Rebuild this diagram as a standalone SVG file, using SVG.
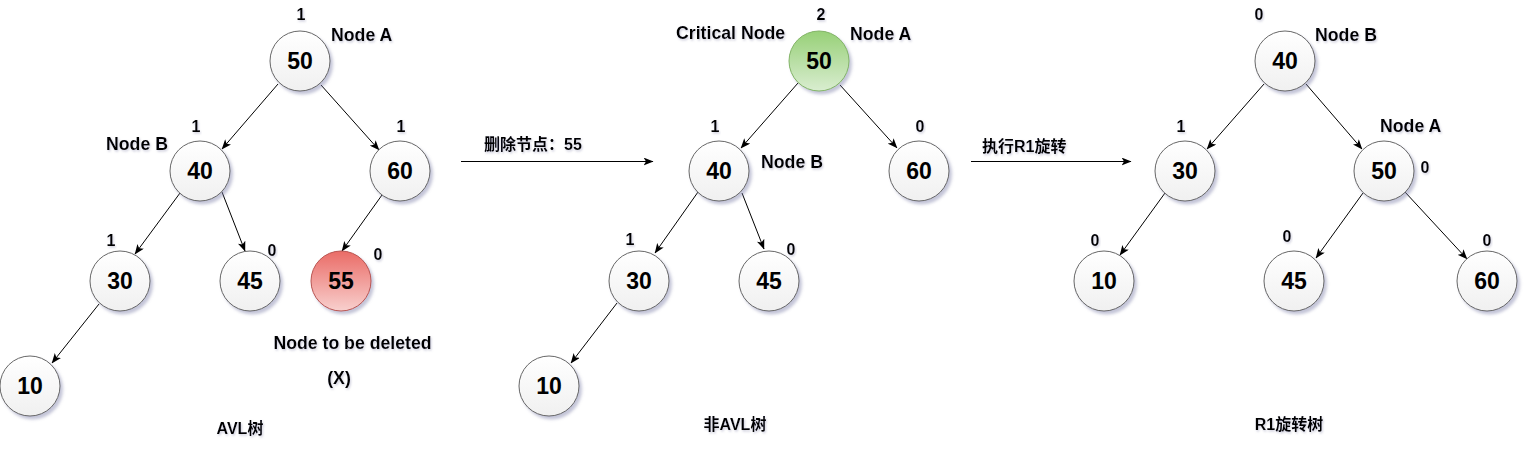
<svg xmlns="http://www.w3.org/2000/svg" width="1525" height="455" viewBox="0 0 1525 455">
<defs>
<linearGradient id="gW" x1="0" y1="0" x2="0" y2="1"><stop offset="0" stop-color="#ffffff"/><stop offset="1" stop-color="#f0f0f0"/></linearGradient>
<linearGradient id="gG" x1="0" y1="0" x2="0" y2="1"><stop offset="0" stop-color="#97d077"/><stop offset="1" stop-color="#d9edd0"/></linearGradient>
<linearGradient id="gR" x1="0" y1="0" x2="0" y2="1"><stop offset="0" stop-color="#ea6b66"/><stop offset="1" stop-color="#f8d0ce"/></linearGradient>
<filter id="sh" x="-30%" y="-30%" width="170%" height="170%"><feDropShadow dx="2.5" dy="3" stdDeviation="1.6" flood-color="#7c7fa8" flood-opacity="0.45"/></filter>
<filter id="tsh" x="-10%" y="-30%" width="120%" height="170%"><feDropShadow dx="1" dy="1.5" stdDeviation="1.2" flood-color="#9090b0" flood-opacity="0.45"/></filter>
<marker id="arr" viewBox="0 0 10 8" refX="9.5" refY="4" markerWidth="10" markerHeight="8" markerUnits="userSpaceOnUse" orient="auto"><path d="M0,0 L10,4 L0,8 L2.5,4 Z" fill="#000"/></marker>
</defs>
<style>
.n circle{stroke:#666666;stroke-width:1;filter:url(#sh)}
.w{fill:url(#gW)}
.g{fill:url(#gG);stroke:#82b366 !important}
.r{fill:url(#gR);stroke:#b85450 !important}
.v{font-family:"Liberation Sans",Arial,sans-serif;font-weight:bold;font-size:23px;text-anchor:middle;fill:#000}
.b{font-family:"Liberation Sans",Arial,sans-serif;font-weight:bold;font-size:16px;text-anchor:middle;fill:#000;filter:url(#tsh)}
.l{font-family:"Liberation Sans",Arial,sans-serif;font-weight:bold;font-size:17.7px;fill:#000;filter:url(#tsh)}
.c{font-family:"Liberation Sans","Noto Sans CJK SC",sans-serif;font-weight:bold;font-size:16px;fill:#000;filter:url(#tsh)}
#edges line{stroke:#000;stroke-width:1;marker-end:url(#arr)}
</style>
<g id="edges">
<line x1="278" y1="84" x2="222" y2="149"/>
<line x1="321" y1="85" x2="379" y2="150"/>
<line x1="180" y1="193" x2="135" y2="254"/>
<line x1="222" y1="192" x2="245" y2="251"/>
<line x1="382" y1="195" x2="342" y2="251"/>
<line x1="99" y1="304" x2="52" y2="363"/>
<line x1="798" y1="83" x2="741" y2="148"/>
<line x1="840" y1="85" x2="897" y2="148"/>
<line x1="698" y1="192" x2="655" y2="253"/>
<line x1="742" y1="193" x2="764" y2="249"/>
<line x1="617" y1="303" x2="571" y2="363"/>
<line x1="1264" y1="84" x2="1207" y2="149"/>
<line x1="1306" y1="84" x2="1362" y2="149"/>
<line x1="1165" y1="193" x2="1120" y2="255"/>
<line x1="1363" y1="193" x2="1316" y2="258"/>
<line x1="1405" y1="192" x2="1467" y2="259"/>
<line x1="461" y1="161.5" x2="653" y2="161.5"/>
<line x1="971" y1="161.5" x2="1131" y2="161.5"/>
</g>
<g id="t1-50" class="n"><circle class="w" cx="300" cy="61" r="30"/><text class="v" x="300" y="69">50</text></g>
<g id="t1-40" class="n"><circle class="w" cx="200" cy="171" r="30"/><text class="v" x="200" y="179">40</text></g>
<g id="t1-60" class="n"><circle class="w" cx="400" cy="171" r="30"/><text class="v" x="400" y="179">60</text></g>
<g id="t1-30" class="n"><circle class="w" cx="120" cy="281" r="30"/><text class="v" x="120" y="289">30</text></g>
<g id="t1-45" class="n"><circle class="w" cx="250" cy="281" r="30"/><text class="v" x="250" y="289">45</text></g>
<g id="t1-55" class="n"><circle class="r" cx="341" cy="281" r="30"/><text class="v" x="341" y="289">55</text></g>
<g id="t1-10" class="n"><circle class="w" cx="30" cy="386" r="30"/><text class="v" x="30" y="394">10</text></g>
<g id="t2-50" class="n"><circle class="g" cx="819" cy="61" r="30"/><text class="v" x="819" y="69">50</text></g>
<g id="t2-40" class="n"><circle class="w" cx="719" cy="171" r="30"/><text class="v" x="719" y="179">40</text></g>
<g id="t2-60" class="n"><circle class="w" cx="919" cy="171" r="30"/><text class="v" x="919" y="179">60</text></g>
<g id="t2-30" class="n"><circle class="w" cx="639" cy="281" r="30"/><text class="v" x="639" y="289">30</text></g>
<g id="t2-45" class="n"><circle class="w" cx="769" cy="281" r="30"/><text class="v" x="769" y="289">45</text></g>
<g id="t2-10" class="n"><circle class="w" cx="549" cy="386" r="30"/><text class="v" x="549" y="394">10</text></g>
<g id="t3-40" class="n"><circle class="w" cx="1285" cy="61" r="30"/><text class="v" x="1285" y="69">40</text></g>
<g id="t3-30" class="n"><circle class="w" cx="1185" cy="171" r="30"/><text class="v" x="1185" y="179">30</text></g>
<g id="t3-50" class="n"><circle class="w" cx="1384" cy="171" r="30"/><text class="v" x="1384" y="179">50</text></g>
<g id="t3-10" class="n"><circle class="w" cx="1104" cy="281" r="30"/><text class="v" x="1104" y="289">10</text></g>
<g id="t3-45" class="n"><circle class="w" cx="1294" cy="281" r="30"/><text class="v" x="1294" y="289">45</text></g>
<g id="t3-60" class="n"><circle class="w" cx="1487" cy="281" r="30"/><text class="v" x="1487" y="289">60</text></g>
<g id="labels">
<text class="b" x="301" y="20">1</text>
<text class="l" x="331" y="41">Node A</text>
<text class="l" x="106" y="150">Node B</text>
<text class="b" x="196" y="132">1</text>
<text class="b" x="401" y="132">1</text>
<text class="b" x="111" y="246">1</text>
<text class="b" x="272" y="256">0</text>
<text class="b" x="378" y="260">0</text>
<text class="l" x="352.5" y="349" text-anchor="middle">Node to be deleted</text>
<text class="l" x="339" y="384" text-anchor="middle">(X)</text>
<text class="c" x="240" y="434" text-anchor="middle">AVL树</text>
<text class="c" x="484" y="150">删除节点：55</text>
<text class="b" x="821" y="20">2</text>
<text class="l" x="676" y="39">Critical Node</text>
<text class="l" x="850" y="40">Node A</text>
<text class="b" x="715" y="132">1</text>
<text class="l" x="761" y="168">Node B</text>
<text class="b" x="920" y="132">0</text>
<text class="b" x="630" y="245">1</text>
<text class="b" x="791" y="255">0</text>
<text class="c" x="735" y="430" text-anchor="middle">非AVL树</text>
<text class="c" x="982" y="152">执行R1旋转</text>
<text class="b" x="1259" y="20">0</text>
<text class="l" x="1315" y="41">Node B</text>
<text class="b" x="1181" y="132">1</text>
<text class="l" x="1380" y="132">Node A</text>
<text class="b" x="1425" y="173">0</text>
<text class="b" x="1095" y="246">0</text>
<text class="b" x="1287" y="242">0</text>
<text class="b" x="1487" y="246">0</text>
<text class="c" x="1289" y="430" text-anchor="middle">R1旋转树</text>
</g>
</svg>
